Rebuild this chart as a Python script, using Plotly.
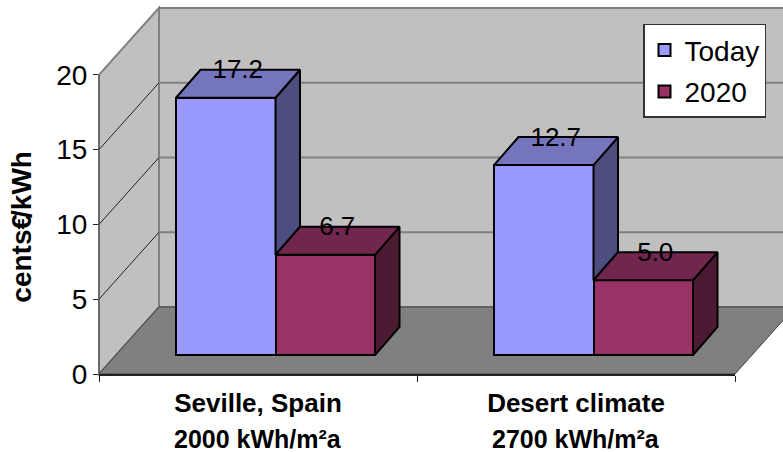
import plotly.graph_objects as go

# Chart content
sites = ["Seville, Spain", "Desert climate"]
site_sun = ["2000 kWh/m²a", "2700 kWh/m²a"]
today_costs = [17.2, 12.7]
costs_2020 = [6.7, 5.0]
y_ticks = [0, 5, 10, 15, 20]
y_title_parts = ["cents€", "/kWh"]

# Canvas and plot box (pixels); the box reaches above 20 so the tallest block stays inside
W, H = 783, 452
PX_Y = 299 / 20
L, R, B = 99, 735, 374
X_RANGE = (-0.5, 1.5)
Y_RANGE = (0, 22)
T = B - PX_Y * (Y_RANGE[1] - Y_RANGE[0])
PX_X = (R - L) / (X_RANGE[1] - X_RANGE[0])

# Oblique projection: depth offsets in data units
ROOM_DX, ROOM_DY = 60 / PX_X, 67 / PX_Y
BAR_X0, BAR_Y0 = 17.5 / PX_X, 19 / PX_Y
BAR_DX, BAR_DY = 24.5 / PX_X, 28 / PX_Y
BAR_W = 99.5 / PX_X

FONT = "Liberation Sans, Arial, sans-serif"
WALL, FLOOR = "#C0C0C0", "#808080"
TODAY = dict(front="#9999FF", top="#7575BD", side="#4D4D80")
Y2020 = dict(front="#993366", top="#70264D", side="#4D1A33")


def px(x, y):
    """Data position to paper fractions, so room shapes may leave the plot box."""
    return ((x - X_RANGE[0]) / (X_RANGE[1] - X_RANGE[0]),
            (y - Y_RANGE[0]) / (Y_RANGE[1] - Y_RANGE[0]))


def poly_path(points):
    coords = [px(*p) for p in points]
    return "M" + "L".join(f"{a:.5f},{b:.5f}" for a, b in coords) + "Z"


def room_shapes():
    x0, x1 = X_RANGE
    top = y_ticks[-1]
    shapes = [
        dict(path=poly_path([(x0 + ROOM_DX, ROOM_DY), (x1 + ROOM_DX, ROOM_DY),
                             (x1 + ROOM_DX, top + ROOM_DY), (x0 + ROOM_DX, top + ROOM_DY)]),
             fillcolor=WALL, line=dict(color=FLOOR, width=2)),
        dict(path=poly_path([(x0, 0), (x0 + ROOM_DX, ROOM_DY),
                             (x0 + ROOM_DX, top + ROOM_DY), (x0, top)]),
             fillcolor=WALL, line=dict(color=FLOOR, width=2)),
        dict(path=poly_path([(x0, 0), (x1, 0), (x1 + ROOM_DX, ROOM_DY), (x0 + ROOM_DX, ROOM_DY)]),
             fillcolor=FLOOR, line=dict(color="#404040", width=1)),
    ]
    for t in y_ticks[1:-1]:
        a = px(x0, t)
        b = px(x0 + ROOM_DX, t + ROOM_DY)
        c = px(x1 + ROOM_DX, t + ROOM_DY)
        shapes.append(dict(type="line", x0=a[0], y0=a[1], x1=b[0], y1=b[1],
                           line=dict(color="#202020", width=1)))
        shapes.append(dict(type="line", x0=b[0], y0=b[1], x1=c[0], y1=c[1],
                           line=dict(color=FLOOR, width=2)))
    # Value axis spine, only as tall as the scale
    a = px(x0, 0)
    b = px(x0, top)
    shapes.append(dict(type="line", x0=a[0], y0=a[1], x1=b[0], y1=b[1],
                       line=dict(color="#555555", width=1)))
    for s in shapes:
        s.update(xref="paper", yref="paper", layer="below")
    return shapes


def face(xs, ys, color):
    return go.Scatter(x=xs + xs[:1], y=ys + ys[:1], mode="lines", fill="toself",
                      fillcolor=color, line=dict(color="black", width=2),
                      showlegend=False, hoverinfo="skip")


fig = go.Figure()

# Front faces
for name, vals, colors, offset in (("Today", today_costs, TODAY, -BAR_W),
                                   ("2020", costs_2020, Y2020, 0)):
    fig.add_bar(x=[i + BAR_X0 for i in range(len(sites))], y=vals, base=BAR_Y0,
                width=BAR_W, offset=offset, name=name, legendgroup=name,
                marker=dict(color=colors["front"], line=dict(color="black", width=2)))

# Top and side faces; the 2020 block hides the lower part of the Today side
for i in range(len(sites)):
    cx = i + BAR_X0
    for vals, colors, x0, hidden in ((today_costs, TODAY, cx - BAR_W, costs_2020[i]),
                                     (costs_2020, Y2020, cx, 0)):
        v = vals[i] + BAR_Y0
        x1 = x0 + BAR_W
        low = hidden + BAR_Y0
        fig.add_trace(face([x1, x1 + BAR_DX, x1 + BAR_DX, x1],
                           [v, v + BAR_DY, low + BAR_DY, low], colors["side"]))
        fig.add_trace(face([x0, x0 + BAR_DX, x1 + BAR_DX, x1],
                           [v, v + BAR_DY, v + BAR_DY, v], colors["top"]))

# Value labels sit on the top faces
label_x, label_y, label_text = [], [], []
for i in range(len(sites)):
    cx = i + BAR_X0
    for vals, x0 in ((today_costs, cx - BAR_W), (costs_2020, cx)):
        label_x.append(x0 + BAR_W / 2 + 12 / PX_X)
        label_y.append(vals[i] + BAR_Y0 + 26 / PX_Y)
        label_text.append(f"{vals[i]:.1f}")
fig.add_trace(go.Scatter(x=label_x, y=label_y, text=label_text, mode="text",
                         textposition="middle center",
                         textfont=dict(family=FONT, size=26, color="black"),
                         showlegend=False, hoverinfo="skip"))

annotations = []
for i, line in enumerate(site_sun):
    annotations.append(dict(x=i, y=(B - 439) / (B - T), xref="x", yref="paper",
                            text=f"<b>{line}</b>", showarrow=False,
                            xanchor="center", yanchor="middle",
                            font=dict(family=FONT, size=25, color="black")))
# The value axis title is set in two pieces so the euro sign runs into the slash
annotations.append(dict(x=(22 - L) / (R - L), y=(B - 258.7) / (B - T), xref="paper", yref="paper",
                        text=f"<b>{y_title_parts[0]}</b>", textangle=-90, showarrow=False,
                        xanchor="center", yanchor="middle",
                        font=dict(family=FONT, size=28, color="black")))
annotations.append(dict(x=(22 - L) / (R - L), y=(B - 185) / (B - T), xref="paper", yref="paper",
                        text=f"<b>{y_title_parts[1]}</b>", textangle=-90, showarrow=False,
                        xanchor="center", yanchor="middle",
                        font=dict(family=FONT, size=28, color="black")))

fig.update_layout(
    width=W, height=H, autosize=False,
    margin=dict(l=L, r=W - R, t=T, b=H - B, pad=0),
    paper_bgcolor="white", plot_bgcolor="rgba(0,0,0,0)",
    barmode="overlay", bargap=0,
    shapes=room_shapes(), annotations=annotations,
    font=dict(family=FONT, color="black"),
    legend=dict(x=(643 - L) / (R - L), y=(B - 24) / (B - T), xanchor="left", yanchor="top",
                bgcolor="white", bordercolor="#333333", borderwidth=1.5,
                font=dict(family=FONT, size=28, color="black"),
                tracegroupgap=2, itemclick=False, itemdoubleclick=False),
    xaxis=dict(range=list(X_RANGE), tickmode="array", tickvals=list(range(len(sites))),
               ticktext=[f"<b>{s}</b>" for s in sites], ticks="", showgrid=False, zeroline=False,
               tickfont=dict(family=FONT, size=26, color="black"), ticklabelstandoff=5,
               showline=True, linecolor="#222222", linewidth=2,
               minor=dict(tickvals=[-0.5, 0.5, 1.5], ticks="outside", ticklen=6,
                          tickcolor="#222222", tickwidth=1, showgrid=False)),
    yaxis=dict(range=list(Y_RANGE), tickmode="array", tickvals=y_ticks, showgrid=False,
               zeroline=False, ticks="outside", ticklen=5, tickcolor="#222222", tickwidth=1,
               showline=False,
               tickfont=dict(family=FONT, size=28, color="black")),
)

fig.write_html("out.html")
